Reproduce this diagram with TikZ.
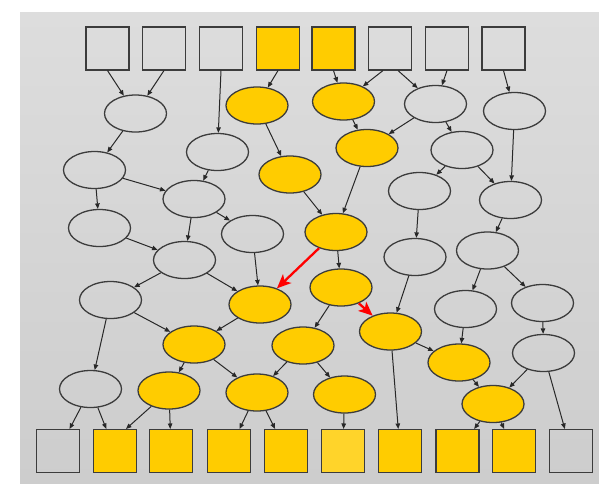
\documentclass[tikz,border=0pt]{standalone}
\usetikzlibrary{arrows.meta,shapes.geometric}
\definecolor{bgtop}{RGB}{221,221,221}
\definecolor{bgbot}{RGB}{205,205,205}
\definecolor{edgegray}{RGB}{40,40,40}
\definecolor{rimgray}{RGB}{60,60,60}
\definecolor{gold}{RGB}{255,204,0}
\definecolor{lightgold}{RGB}{255,212,42}
\begin{document}
\begin{tikzpicture}[x=1pt,y=-1pt,
  box/.style={draw=rimgray,line width=1.1pt,minimum size=43pt,inner sep=0pt},
  oval/.style={draw=rimgray,line width=1.3pt,ellipse,minimum width=62pt,minimum height=37pt,inner sep=0pt},
  hot/.style={fill=gold},
  link/.style={draw=edgegray,line width=1pt,-{Triangle[length=5.5pt,width=4.5pt]}},
  hotlink/.style={draw=red,line width=2.3pt,-{Stealth[length=14pt,width=12pt,inset=3.5pt]}}]
\useasboundingbox (0,0) rectangle (599,483);
\shade[top color=bgtop,bottom color=bgbot] (20,12) rectangle (599,483);

% input row
\node[box]     (t1) at (107.5,48.5) {};
\node[box]     (t2) at (164,48.5) {};
\node[box]     (t3) at (221,48.5) {};
\node[box,hot] (t4) at (278,48.5) {};
\node[box,hot] (t5) at (333.5,48.5) {};
\node[box]     (t6) at (390,48.5) {};
\node[box]     (t7) at (447,48.5) {};
\node[box]     (t8) at (503.5,48.5) {};

% output row
\node[box]     (b1)  at (58,451) {};
\node[box,hot] (b2)  at (115,451) {};
\node[box,hot] (b3)  at (171,451) {};
\node[box,hot] (b4)  at (229,451) {};
\node[box,hot] (b5)  at (286,451) {};
\node[box,fill=lightgold] (b6) at (343,451) {};
\node[box,hot] (b7)  at (400,451) {};
\node[box,hot] (b8)  at (457.5,451) {};
\node[box,hot] (b9)  at (514,451) {};
\node[box]     (b10) at (571,451) {};

% inner nodes
\node[oval]     (n1)  at (135.5,113.5) {};
\node[oval,hot] (n2)  at (257,105.5) {};
\node[oval,hot] (n3)  at (343.5,101.5) {};
\node[oval]     (n4)  at (435.5,104) {};
\node[oval]     (n5)  at (514.5,111) {};
\node[oval]     (n6)  at (94.5,170) {};
\node[oval]     (n7)  at (217.5,152) {};
\node[oval,hot] (n8)  at (290,174.5) {};
\node[oval,hot] (n9)  at (367,148) {};
\node[oval]     (n10) at (462,150) {};
\node[oval]     (n11) at (194,199) {};
\node[oval]     (n12) at (252.5,234) {};
\node[oval]     (n13) at (99.5,228) {};
\node[oval]     (n14) at (419.5,191) {};
\node[oval]     (n15) at (510.5,200) {};
\node[oval,hot] (n16) at (336,232) {};
\node[oval]     (n17) at (184.5,260) {};
\node[oval]     (n18) at (415,257) {};
\node[oval]     (n19) at (487.5,250.5) {};
\node[oval]     (n20) at (110.5,300) {};
\node[oval,hot] (n21) at (260,304.5) {};
\node[oval,hot] (n22) at (341,287.5) {};
\node[oval,hot] (n23) at (390.5,331.5) {};
\node[oval]     (n24) at (465.5,309) {};
\node[oval]     (n25) at (542.5,303) {};
\node[oval]     (n26) at (543.5,353) {};
\node[oval,hot] (n27) at (194,344.5) {};
\node[oval,hot] (n28) at (303,345.5) {};
\node[oval,hot] (n29) at (459,362.5) {};
\node[oval]     (n30) at (90.5,389) {};
\node[oval,hot] (n31) at (169,390.5) {};
\node[oval,hot] (n32) at (257,392.5) {};
\node[oval,hot] (n33) at (344.5,394.5) {};
\node[oval,hot] (n34) at (493,404) {};

% edges out of the input row
\draw[link] (t1.south) -- (n1);
\draw[link] (t2.south) -- (n1);
\draw[link] (t3.south) -- (n7);
\draw[link] (t4.south) -- (n2);
\draw[link] (t5.south) -- (n3);
\draw[link] ([xshift=-7pt]t6.south) -- (n3);
\draw[link] ([xshift=8pt]t6.south) -- (n4);
\draw[link] (t7.south) -- (n4);
\draw[link] (t8.south) -- (n5);

% inner edges
\draw[link] (n1) -- (n6);
\draw[link] (n2) -- (n8);
\draw[link] (n3) -- (n9);
\draw[link] (n4) -- (n9);
\draw[link] (n4) -- (n10);
\draw[link] (n5) -- (n15);
\draw[link] (n6) -- (n13);
\draw[link] (n6) -- (n11);
\draw[link] (n7) -- (n11);
\draw[link] (n11) -- (n12);
\draw[link] (n11) -- (n17);
\draw[link] (n8) -- (n16);
\draw[link] (n9) -- (n16);
\draw[link] (n10) -- (n14);
\draw[link] (n10) -- (n15);
\draw[link] (n13) -- (n17);
\draw[link] (n17) -- (n20);
\draw[link] (n17) -- (n21);
\draw[link] (n12) -- (n21);
\draw[link] (n16) -- (n22);
\draw[link] (n14) -- (n18);
\draw[link] (n15) -- (n19);
\draw[link] (n18) -- (n23);
\draw[link] (n22) -- (n28);
\draw[link] (n19) -- (n24);
\draw[link] (n19) -- (n25);
\draw[link] (n20) -- (n30);
\draw[link] (n20) -- (n27);
\draw[link] (n21) -- (n27);
\draw[link] (n24) -- (n29);
\draw[link] (n25) -- (n26);
\draw[link] (n23) -- (n29);
\draw[link] (n27) -- (n31);
\draw[link] (n27) -- (n32);
\draw[link] (n28) -- (n32);
\draw[link] (n28) -- (n33);
\draw[link] (n29) -- (n34);
\draw[link] (n26) -- (n34);

% edges into the output row
\draw[link] (n23) -- (b7);
\draw[link] (n26) -- (b10);
\draw[link] (n30) -- (b1);
\draw[link] (n30) -- (b2);
\draw[link] (n31) -- ([xshift=11pt]b2.north);
\draw[link] (n31) -- (b3);
\draw[link] (n32) -- (b4);
\draw[link] (n32) -- (b5);
\draw[link] (n33) -- (b6);
\draw[link] (n34) -- (b8);
\draw[link] (n34) -- (b9);

% highlighted edges
\draw[hotlink] (n16) -- (n21);
\draw[hotlink] (n22) -- (n23);
\end{tikzpicture}
\end{document}
